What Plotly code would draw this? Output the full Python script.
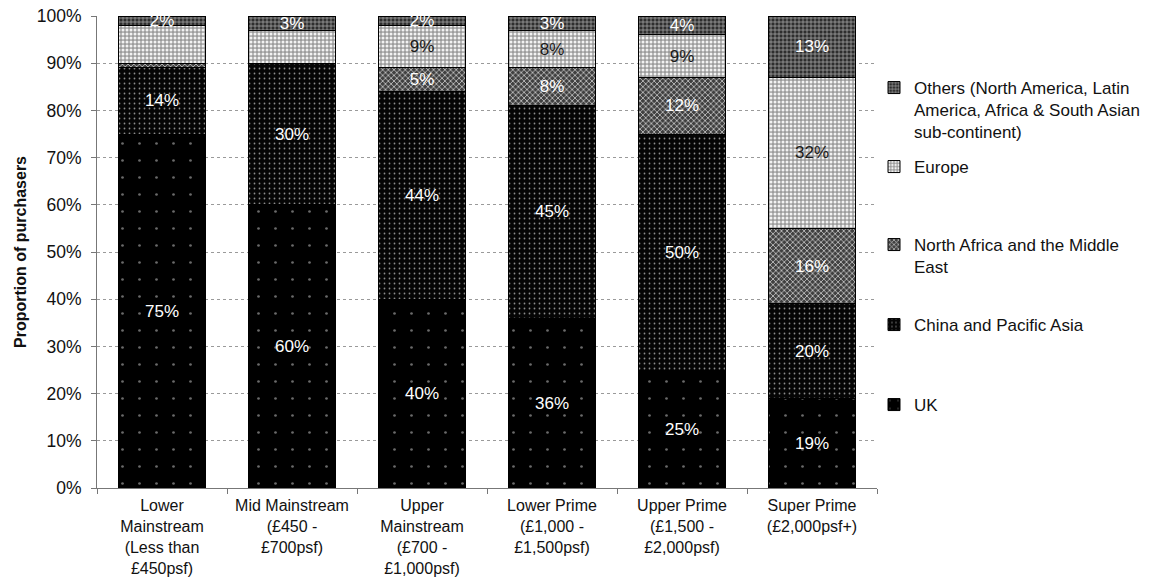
import plotly.graph_objects as go

# Price bands (x-axis categories)
bands = [
    "Lower<br>Mainstream<br>(Less than<br>£450psf)",
    "Mid Mainstream<br>(£450 -<br>£700psf)",
    "Upper<br>Mainstream<br>(£700 -<br>£1,000psf)",
    "Lower Prime<br>(£1,000 -<br>£1,500psf)",
    "Upper Prime<br>(£1,500 -<br>£2,000psf)",
    "Super Prime<br>(£2,000psf+)",
]

# Share of purchasers by origin (%), bottom to top of each stack
uk = [75, 60, 40, 36, 25, 19]
china_pacific_asia = [14, 30, 44, 45, 50, 20]
north_africa_middle_east = [1, 0, 5, 8, 12, 16]
europe = [8, 7, 9, 8, 9, 32]
others = [2, 3, 2, 3, 4, 13]

# Which segments carry a value label
uk_labelled = [True] * 6
china_labelled = [True] * 6
name_labelled = [False, False, True, True, True, True]
europe_labelled = [False, False, True, True, True, True]
others_labelled = [True] * 6

y_tick_values = [0, 10, 20, 30, 40, 50, 60, 70, 80, 90, 100]
y_tick_labels = ["0%", "10%", "20%", "30%", "40%", "50%",
                 "60%", "70%", "80%", "90%", "100%"]

FONT = "Liberation Sans, Arial, sans-serif"

series = [
    dict(name="UK", values=uk, shown=uk_labelled, legend="legend5",
         bg="#000000", fg="#6a6a6a", shape=".", size=17, solidity=0.02,
         textcolor="#ffffff"),
    dict(name="China and Pacific Asia", values=china_pacific_asia,
         shown=china_labelled, legend="legend4",
         bg="#050505", fg="#8c8c8c", shape=".", size=5, solidity=0.10,
         textcolor="#ffffff"),
    dict(name="North Africa and the Middle<br>East",
         values=north_africa_middle_east, shown=name_labelled,
         legend="legend3",
         bg="#404040", fg="#d0d0d0", shape="x", size=4, solidity=0.35,
         textcolor="#ffffff"),
    dict(name="Europe", values=europe, shown=europe_labelled,
         legend="legend2",
         bg="#9c9c9c", fg="#f2f2f2", shape=".", size=4, solidity=0.45,
         textcolor="#1a1a1a"),
    dict(name="Others (North America, Latin<br>America, Africa & South Asian<br>sub-continent)",
         values=others, shown=others_labelled, legend="legend",
         bg="#2e2e2e", fg="#b4b4b4", shape="+", size=4, solidity=0.30,
         textcolor="#ffffff"),
]

fig = go.Figure()
for s in series:
    labels = [f"{v}%" if show and v > 0 else "" for v, show in zip(s["values"], s["shown"])]
    fig.add_trace(go.Bar(
        x=bands,
        y=s["values"],
        name=s["name"],
        legend=s["legend"],
        text=labels,
        textposition="inside",
        insidetextanchor="middle",
        textangle=0,
        textfont=dict(family=FONT, size=17, color=s["textcolor"]),
        marker=dict(
            color=s["bg"],
            line=dict(color="#000000", width=1),
            pattern=dict(shape=s["shape"], bgcolor=s["bg"], fgcolor=s["fg"],
                         size=s["size"], solidity=s["solidity"],
                         fillmode="replace"),
        ),
        hoverinfo="skip",
    ))

# One legend per series so each entry sits at its own height
legend_rows = {"legend": 70, "legend2": 149, "legend3": 227, "legend4": 307, "legend5": 387}
legend_common = dict(
    xref="container", yref="container", x=874 / 1157, xanchor="left",
    yanchor="top", bgcolor="rgba(0,0,0,0)", borderwidth=0,
    font=dict(family=FONT, size=17, color="#111111"),
    valign="top", itemclick=False, itemdoubleclick=False,
)
legend_layout = {k: dict(legend_common, y=1 - top / 580) for k, top in legend_rows.items()}

fig.update_layout(
    width=1157, height=580,
    margin=dict(l=97, r=280, t=16, b=92, autoexpand=False),
    paper_bgcolor="#ffffff", plot_bgcolor="#ffffff",
    barmode="stack", bargap=0.33,
    showlegend=True,
    uniformtext=dict(minsize=17, mode="show"),
    font=dict(family=FONT, size=17, color="#111111"),
    **legend_layout,
)

fig.update_xaxes(
    type="category", automargin=False, tickangle=0,
    showgrid=False, showline=True, linecolor="#777777", linewidth=1,
    ticks="outside", tickson="boundaries", ticklen=5, tickcolor="#777777",
    ticklabelstandoff=3,
    tickfont=dict(family=FONT, size=16, color="#111111"),
    zeroline=False,
)

fig.update_yaxes(
    range=[0, 100], tickmode="array",
    tickvals=y_tick_values, ticktext=y_tick_labels,
    automargin=False,
    showgrid=True, gridcolor="#9a9a9a", griddash="dot", gridwidth=1,
    showline=True, linecolor="#777777", linewidth=1,
    ticks="outside", ticklen=5, tickcolor="#777777",
    ticklabelstandoff=6,
    tickfont=dict(family=FONT, size=17.5, color="#111111"),
    title=dict(text="<b>Proportion of purchasers</b>", standoff=6,
               font=dict(family=FONT, size=16, color="#111111")),
    zeroline=False,
)

fig.write_html("out.html")
